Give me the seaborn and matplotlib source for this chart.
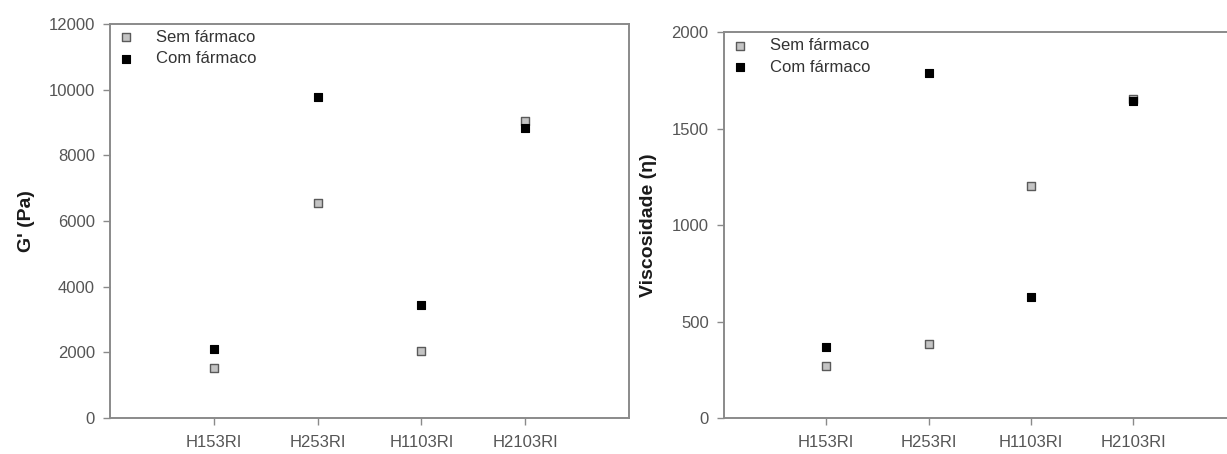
import numpy as np
import pandas as pd
import matplotlib
matplotlib.use("Agg")
import matplotlib.pyplot as plt
import seaborn as sns

# -----------------------------
# Data
# -----------------------------
samples = ["H153RI", "H253RI", "H1103RI", "H2103RI"]
series_names = ["Sem fármaco", "Com fármaco"]

g_sem = [1520, 6550, 2040, 9050]
g_com = [2100, 9790, 3440, 8830]

visc_sem = [271, 383, 1202, 1655]
visc_com = [366, 1786, 629, 1642]

# -----------------------------
# Styling
# -----------------------------
sns.set_style("white")
plt.rcParams["font.family"] = ["Liberation Sans", "DejaVu Sans"]

SPINE = "#8a8a8a"
TICKTXT = "#555555"
styles = {
    "Sem fármaco": dict(color="#c4c4c4", edgecolor="#5a5a5a", linewidth=1.0),
    "Com fármaco": dict(color="#000000", edgecolor="#000000", linewidth=0.8),
}


def panel(ax, sem, com, ylabel, ylim, yticks):
    df = pd.DataFrame({
        "amostra": samples * 2,
        "valor": sem + com,
        "serie": [series_names[0]] * len(samples) + [series_names[1]] * len(samples),
    })
    for name in series_names:
        sub = df[df["serie"] == name]
        sns.scatterplot(data=sub, x="amostra", y="valor", marker="s", s=40,
                        label=name, ax=ax, zorder=3, **styles[name])
    ax.set_xlim(-1, 4)
    ax.set_ylim(*ylim)
    ax.set_yticks(yticks)
    ax.set_xlabel("")
    ax.set_ylabel(ylabel, fontsize=14, fontweight="bold", color="#1a1a1a")
    for sp in ax.spines.values():
        sp.set_visible(True)
        sp.set_color(SPINE)
        sp.set_linewidth(1.4)
    ax.tick_params(axis="both", direction="out", length=5, width=1,
                   color=SPINE, labelcolor=TICKTXT, labelsize=12,
                   bottom=True, left=True)
    ax.tick_params(axis="x", pad=7)
    ax.tick_params(axis="y", pad=6)
    leg = ax.legend(loc="upper left", frameon=False, fontsize=12,
                    handletextpad=1.2, borderaxespad=0.1, labelspacing=0.4,
                    borderpad=0.25, markerscale=0.85, handlelength=1.2)
    for t in leg.get_texts():
        t.set_color("#333333")


fig = plt.figure(figsize=(12.27, 4.54), dpi=100)
ax1 = fig.add_axes([0.0897, 0.0793, 0.423, 0.868])
ax2 = fig.add_axes([0.590, 0.0793, 0.417, 0.850])

panel(ax1, g_sem, g_com, "G' (Pa)", (0, 12000), np.arange(0, 12001, 2000))
panel(ax2, visc_sem, visc_com, "Viscosidade (\u03b7)", (0, 2000), np.arange(0, 2001, 500))

ax1.yaxis.set_label_coords(-0.145, 0.5)
ax2.yaxis.set_label_coords(-0.13, 0.5)

fig.savefig("out.png", dpi=100)
plt.close(fig)
